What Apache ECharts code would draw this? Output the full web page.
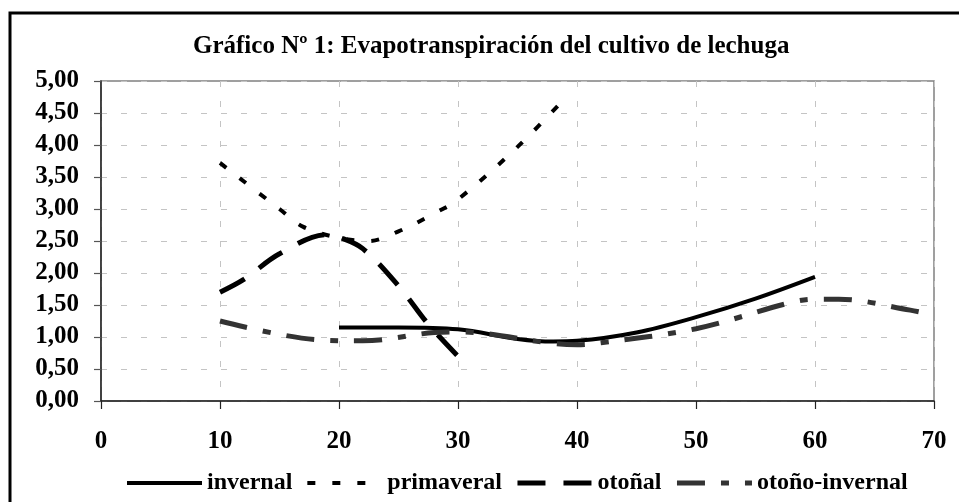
<!DOCTYPE html>
<html>
<head>
<meta charset="utf-8">
<script src="https://cdn.jsdelivr.net/npm/echarts@6/dist/echarts.min.js"></script>
<style>
html,body{margin:0;padding:0;background:#fff;}
#chart{width:959px;height:502px;}
</style>
</head>
<body>
<div id="chart"></div>
<script>
var titleText = 'Gráfico Nº 1: Evapotranspiración del cultivo de lechuga';
var seriesNames = ['invernal', 'primaveral', 'otoñal', 'otoño-invernal'];

var invernal = [[20,1.15],[25,1.15],[30,1.12],[35,0.97],[38,0.93],[40,0.94],[45,1.07],[50,1.31],[55,1.60],[60,1.94]];
var primaveral = [[10,3.72],[15,3.00],[17,2.72],[20,2.55],[22.5,2.50],[25,2.65],[28,2.93],[30,3.15],[35,3.97],[39.2,4.77]];
var otonal = [[10,1.70],[12,1.90],[15,2.30],[19,2.60],[20,2.56],[22,2.38],[25,1.80],[27.5,1.20],[30,0.70]];
var otonoInvernal = [[10,1.25],[18,0.96],[22,0.94],[28,1.07],[30,1.08],[38,0.90],[40,0.88],[42,0.91],[50,1.13],[58,1.54],[60,1.59],[62,1.59],[68,1.42],[70,1.34]];

var xMin = 0, xMax = 70, xStep = 10;
var yMin = 0, yMax = 5, yStep = 0.5;

var serif = '"Liberation Serif", "Times New Roman", serif';
var chart = echarts.init(document.getElementById('chart'));

var styles = [
  { color: '#000000', width: 4, type: 'solid' },
  { color: '#000000', width: 4, type: [8, 17] },
  { color: '#000000', width: 5, type: [28, 18] },
  { color: '#333333', width: 5, type: [28, 16, 8, 16] }
];
var seriesData = [invernal, primaveral, otonal, otonoInvernal];

var series = seriesNames.map(function (name, i) {
  var s = styles[i];
  return {
    name: name, type: 'line', data: seriesData[i], smooth: 0.35,
    symbol: 'none', showSymbol: false,
    lineStyle: { color: s.color, width: s.width, type: s.type, cap: 'butt' },
    itemStyle: { color: s.color },
    z: 3
  };
});

var legendData = seriesNames.map(function (name, i) {
  var s = styles[i];
  return {
    name: name,
    itemStyle: { opacity: 0 },
    lineStyle: { color: s.color, width: s.width, type: s.type, cap: 'butt' }
  };
});

chart.setOption({
  animation: false,
  backgroundColor: '#ffffff',
  graphic: [{
    type: 'rect', shape: { x: 10, y: 13, width: 1000, height: 600 },
    style: { fill: 'none', stroke: '#000', lineWidth: 3 }, z: 100
  }],
  title: {
    text: titleText, left: 193, top: 34, padding: 0,
    textStyle: { fontFamily: serif, fontWeight: 'bold', fontSize: 25, color: '#000' }
  },
  grid: { left: 101, right: 25, top: 81, bottom: 101, show: true, borderColor: '#808080', borderWidth: 1.5 },
  xAxis: {
    type: 'value', min: xMin, max: xMax, interval: xStep,
    axisLine: { show: true, lineStyle: { color: '#222', width: 1.5 } },
    axisTick: { show: true, inside: false, length: 8, lineStyle: { color: '#222', width: 1.2 } },
    axisLabel: { margin: 28, fontFamily: serif, fontWeight: 'bold', fontSize: 25, color: '#000' },
    splitLine: { show: true, lineStyle: { color: '#c4c4c4', width: 1, type: [6, 14] } }
  },
  yAxis: {
    type: 'value', min: yMin, max: yMax, interval: yStep,
    axisLine: { show: true, lineStyle: { color: '#222', width: 1.5 } },
    axisTick: { show: true, inside: false, length: 7, lineStyle: { color: '#555', width: 1.2 } },
    axisLabel: {
      margin: 22, fontFamily: serif, fontWeight: 'bold', fontSize: 25, color: '#000',
      formatter: function (v) { return v.toFixed(2).replace('.', ','); }
    },
    splitLine: { show: true, lineStyle: { color: '#c4c4c4', width: 1, type: [6, 14] } }
  },
  legend: {
    data: legendData, left: 125, top: 471, padding: 0, itemWidth: 75, itemHeight: 14, itemGap: 13,
    textStyle: { fontFamily: serif, fontWeight: 'bold', fontSize: 24, color: '#000' }
  },
  series: series
});
</script>
</body>
</html>
